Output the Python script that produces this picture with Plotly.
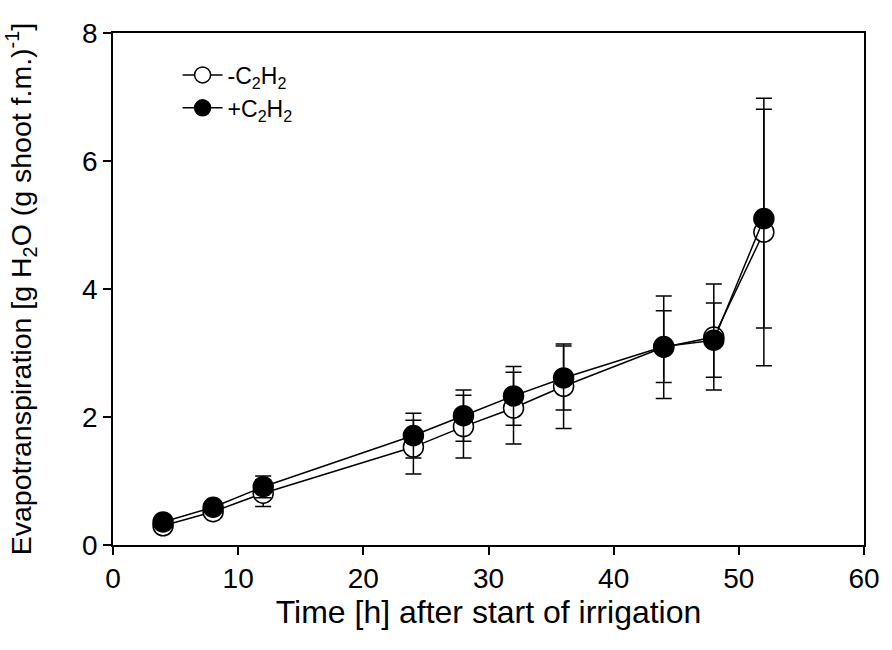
import plotly.graph_objects as go

time_h = [4, 8, 12, 24, 28, 32, 36, 44, 48, 52]
minus_mean = [0.30, 0.52, 0.81, 1.53, 1.85, 2.14, 2.48, 3.09, 3.25, 4.89]
minus_sd = [0.05, 0.06, 0.21, 0.42, 0.49, 0.56, 0.66, 0.80, 0.83, 2.09]
plus_mean = [0.36, 0.59, 0.91, 1.71, 2.02, 2.33, 2.61, 3.10, 3.20, 5.10]
plus_sd = [0.05, 0.06, 0.17, 0.35, 0.40, 0.46, 0.50, 0.56, 0.58, 1.71]
names = ["-C<sub>2</sub>H<sub>2</sub>", "+C<sub>2</sub>H<sub>2</sub>"]
x_ticks = [0, 10, 20, 30, 40, 50, 60]
y_ticks = [0, 2, 4, 6, 8]

fig = go.Figure()
fig.add_trace(go.Scatter(
    x=time_h, y=minus_mean, name=names[0], mode="lines+markers",
    line=dict(color="black", width=1.5),
    marker=dict(symbol="circle", size=20, color="white", line=dict(color="black", width=1.5)),
    error_y=dict(type="data", array=minus_sd, visible=True, color="black", thickness=1.5, width=8),
))
fig.add_trace(go.Scatter(
    x=time_h, y=plus_mean, name=names[1], mode="lines+markers",
    line=dict(color="black", width=1.5),
    marker=dict(symbol="circle", size=20, color="black", line=dict(color="black", width=1.5)),
    error_y=dict(type="data", array=plus_sd, visible=True, color="black", thickness=1.5, width=8),
))

fig.update_layout(
    width=892, height=650,
    margin=dict(l=113, r=26, t=33, b=105),
    paper_bgcolor="white", plot_bgcolor="white",
    font=dict(family="Liberation Sans", size=25, color="black"),
    showlegend=True,
    legend=dict(x=0.086, y=0.96, xanchor="left", yanchor="top",
                bgcolor="rgba(0,0,0,0)", font=dict(size=23, color="black"),
                itemwidth=40),
    xaxis=dict(range=[0, 60], tickvals=x_ticks,
               showline=True, linecolor="black", linewidth=1.5, mirror=True,
               ticks="outside", ticklen=8, tickwidth=1.5, tickcolor="black",
               tickfont=dict(family="Liberation Sans", size=28, color="black"),
               showgrid=False, zeroline=False,
               title=dict(text="Time [h] after start of irrigation", standoff=0,
                          font=dict(size=32, color="black"))),
    yaxis=dict(range=[0, 8], tickvals=y_ticks,
               showline=True, linecolor="black", linewidth=1.5, mirror=True,
               ticks="outside", ticklen=8, tickwidth=1.5, tickcolor="black",
               tickfont=dict(family="Liberation Sans", size=28, color="black"),
               showgrid=False, zeroline=False,
               title=dict(text="Evapotranspiration [g H<sub>2</sub>O (g shoot f.m.)<sup>-1</sup>]",
                          standoff=42, font=dict(size=28.5, color="black"))),
)

fig.write_html("out.html")
